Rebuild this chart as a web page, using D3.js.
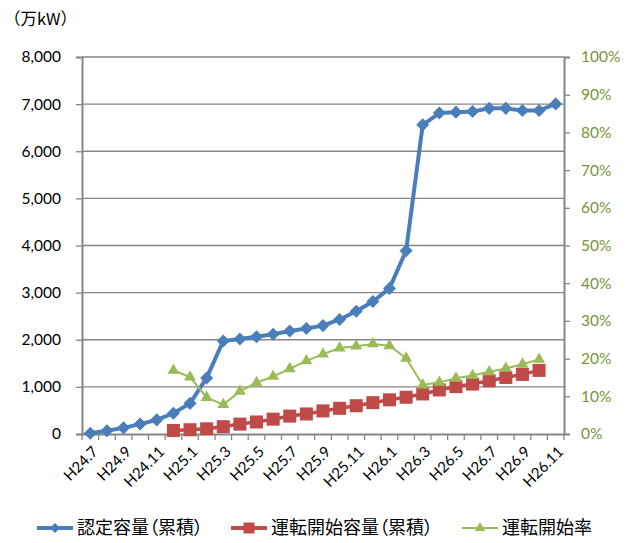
<!DOCTYPE html>
<html>
<head>
<meta charset="utf-8">
<script src="https://cdn.jsdelivr.net/npm/d3@7"></script>
<style>
  body { margin: 0; background: #fff; }
</style>
</head>
<body>
<div id="main"></div>
<script>
const months = ["H24.7", "H24.8", "H24.9", "H24.10", "H24.11", "H24.12",
    "H25.1", "H25.2", "H25.3", "H25.4", "H25.5", "H25.6", "H25.7", "H25.8", "H25.9", "H25.10", "H25.11", "H25.12",
    "H26.1", "H26.2", "H26.3", "H26.4", "H26.5", "H26.6", "H26.7", "H26.8", "H26.9", "H26.10", "H26.11"];

// 認定容量（累積） 万kW
const certified = [15, 70, 130, 210, 300, 440, 650, 1190, 1975, 2015, 2065, 2115, 2185, 2240, 2300,
    2430, 2605, 2810, 3090, 3890, 6560, 6810, 6830, 6845, 6910, 6910, 6865, 6865, 7005];

// 運転開始容量（累積） 万kW
const operating = [null, null, null, null, null, 75, 90, 110, 155, 210, 255, 315, 380, 425, 490,
    545, 600, 665, 725, 780, 850, 935, 1005, 1060, 1130, 1200, 1265, 1350, null];

// 運転開始率 %
const rate = [null, null, null, null, null, 16.9, 15.1, 9.7, 7.8, 11.3, 13.6, 15.3, 17.3, 19.4, 21.2,
    22.8, 23.3, 23.9, 23.4, 20.1, 13.0, 13.7, 14.8, 15.5, 16.5, 17.4, 18.5, 19.8, null];

const leftTicks = [0, 1000, 2000, 3000, 4000, 5000, 6000, 7000, 8000];
const rightTicks = [0, 10, 20, 30, 40, 50, 60, 70, 80, 90, 100];
const seriesNames = ["認定容量（累積）", "運転開始容量（累積）", "運転開始率"];

const width = 633;
const height = 543;
const margin = ({top: 57, right: 69, bottom: 109, left: 82});

const gray = "#868686";
const blue = "#4a7ebb";
const red = "#be4b48";
const green = "#9bbb59";
const latin = "Lato, 'Liberation Sans', sans-serif";
const cjk = "'Noto Sans CJK JP', sans-serif";

const x = d3.scaleBand()
    .domain(months)
    .range([margin.left, width - margin.right]);
const cx = m => x(m) + x.bandwidth() / 2;

const y = d3.scaleLinear()
    .domain([0, 8000])
    .range([height - margin.bottom, margin.top]);

const yr = d3.scaleLinear()
    .domain([0, 100])
    .range([height - margin.bottom, margin.top]);

const svg = d3.create("svg")
    .attr("width", width)
    .attr("height", height)
    .attr("viewBox", [0, 0, width, height]);

// unit label
svg.append("text")
    .attr("x", 4)
    .attr("y", 19)
    .attr("dy", "0.35em")
    .attr("font-family", cjk)
    .attr("font-size", 16.5)
    .text("（万kW）");

// gridlines
svg.append("g")
    .selectAll("line")
    .data(leftTicks.filter(d => d > 0))
    .join("line")
    .attr("x1", margin.left)
    .attr("x2", width - margin.right)
    .attr("y1", d => y(d))
    .attr("y2", d => y(d))
    .attr("stroke", gray)
    .attr("stroke-width", 1.3);

// left axis
const yAxis = g => g
    .attr("transform", `translate(${margin.left},0)`)
    .call(d3.axisLeft(y).tickValues(leftTicks).tickFormat(d3.format(",")).tickSize(6).tickPadding(15))
    .call(g => g.select(".domain").attr("stroke", gray).attr("stroke-width", 2))
    .call(g => g.selectAll(".tick line").attr("stroke", gray).attr("stroke-width", 1.3))
    .call(g => g.selectAll("text").attr("font-family", latin).attr("font-size", 15.5).attr("fill", "#000"));

// right axis
const yAxisR = g => g
    .attr("transform", `translate(${width - margin.right},0)`)
    .call(d3.axisRight(yr).tickValues(rightTicks).tickFormat(d => d + "%").tickSize(6).tickPadding(11))
    .call(g => g.select(".domain").attr("stroke", gray).attr("stroke-width", 2))
    .call(g => g.selectAll(".tick line").attr("stroke", gray).attr("stroke-width", 1.3))
    .call(g => g.selectAll("text").attr("font-family", latin).attr("font-size", 15.5).attr("fill", "#77933c"));

// bottom axis: labels every other month, ticks at band edges
const xAxis = g => g
    .attr("transform", `translate(0,${height - margin.bottom})`)
    .call(d3.axisBottom(x).tickValues(months.filter((d, i) => i % 2 === 0)).tickSize(0).tickSizeOuter(0))
    .call(g => g.select(".domain").attr("stroke", gray).attr("stroke-width", 2))
    .call(g => g.selectAll("text")
        .attr("font-family", latin)
        .attr("font-size", 15)
        .attr("fill", "#000")
        .attr("text-anchor", "end")
        .attr("x", 0)
        .attr("y", 0)
        .attr("dy", "0.35em")
        .attr("transform", "translate(5,15) rotate(-45)"));

svg.append("g").call(xAxis);

svg.append("g")
    .attr("transform", `translate(0,${height - margin.bottom})`)
    .selectAll("line")
    .data(months.map(m => x(m)).concat([x.range()[1]]))
    .join("line")
    .attr("x1", d => d)
    .attr("x2", d => d)
    .attr("y1", 0)
    .attr("y2", 6)
    .attr("stroke", gray)
    .attr("stroke-width", 1.3);

svg.append("g").call(yAxis);
svg.append("g").call(yAxisR);

const line = (scale) => d3.line()
    .defined(d => d[1] != null)
    .x(d => cx(d[0]))
    .y(d => scale(d[1]));

const certData = months.map((m, i) => [m, certified[i]]);
const operData = months.map((m, i) => [m, operating[i]]);
const rateData = months.map((m, i) => [m, rate[i]]);

const diamond = d3.symbol(d3.symbolSquare, 85)();
const square = d3.symbol(d3.symbolSquare, 170)();
const triangle = d3.symbol(d3.symbolTriangle, 62)();

// 運転開始容量
svg.append("path")
    .datum(operData)
    .attr("fill", "none")
    .attr("stroke", red)
    .attr("stroke-width", 3.5)
    .attr("d", line(y));

svg.append("g")
    .selectAll("path")
    .data(operData.filter(d => d[1] != null))
    .join("path")
    .attr("d", square)
    .attr("fill", red)
    .attr("transform", d => `translate(${cx(d[0])},${y(d[1])})`);

// 認定容量
svg.append("path")
    .datum(certData)
    .attr("fill", "none")
    .attr("stroke", blue)
    .attr("stroke-width", 4)
    .attr("stroke-linejoin", "round")
    .attr("d", line(y));

svg.append("g")
    .selectAll("path")
    .data(certData)
    .join("path")
    .attr("d", diamond)
    .attr("fill", blue)
    .attr("transform", d => `translate(${cx(d[0])},${y(d[1])}) rotate(45)`);

// 運転開始率
svg.append("path")
    .datum(rateData)
    .attr("fill", "none")
    .attr("stroke", green)
    .attr("stroke-width", 2)
    .attr("d", line(yr));

svg.append("g")
    .selectAll("path")
    .data(rateData.filter(d => d[1] != null))
    .join("path")
    .attr("d", triangle)
    .attr("fill", green)
    .attr("transform", d => `translate(${cx(d[0])},${yr(d[1])})`);

// legend
const legendItems = [
    {name: seriesNames[0], color: blue, x: 37, marker: d3.symbol(d3.symbolSquare, 50)(), rot: 45, sw: 4},
    {name: seriesNames[1], color: red, x: 231, marker: d3.symbol(d3.symbolSquare, 120)(), rot: 0, sw: 4},
    {name: seriesNames[2], color: green, x: 462, marker: d3.symbol(d3.symbolTriangle, 45)(), rot: 0, sw: 2}
];

const legend = svg.append("g")
    .attr("transform", "translate(0,528)");

const li = legend.selectAll("g")
    .data(legendItems)
    .join("g")
    .attr("transform", d => `translate(${d.x},0)`);

li.append("line")
    .attr("x1", 0)
    .attr("x2", 36)
    .attr("stroke", d => d.color)
    .attr("stroke-width", d => d.sw);

li.append("path")
    .attr("d", d => d.marker)
    .attr("fill", d => d.color)
    .attr("transform", d => `translate(18,0) rotate(${d.rot})`);

li.append("text")
    .attr("x", 40)
    .attr("dy", "0.35em")
    .attr("font-family", cjk)
    .attr("font-size", 18)
    .style("font-feature-settings", "'palt'")
    .attr("fill", "#000")
    .text(d => d.name);

d3.select("#main").append(() => svg.node());
</script>
</body>
</html>
